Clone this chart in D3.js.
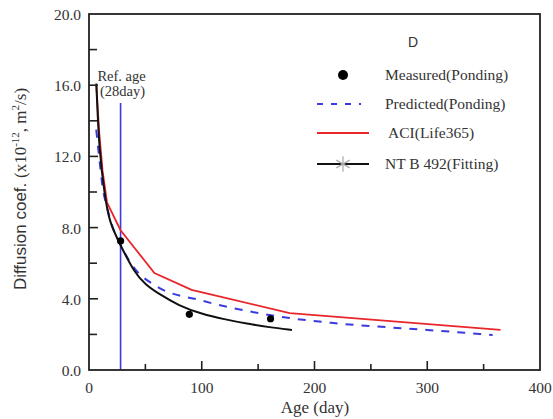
<!DOCTYPE html>
<html>
<head>
<meta charset="utf-8">
<script src="https://cdn.jsdelivr.net/npm/d3@7"></script>
<style>
  body { margin: 0; background: #fff; }
  text { fill: #333; white-space: pre; }
  .serif { font-family: "Liberation Serif", "Times New Roman", serif; }
  .sans { font-family: "Liberation Sans", Arial, sans-serif; }
</style>
</head>
<body>
<div id="graphContainer"></div>
<script>
// values (day, diffusion coef x1e-12 m2/s)
var measuredDays = [28, 89, 161],
    measuredVals = [7.25, 3.13, 2.88];

var predictedDays = [6.4, 9.3, 12, 16, 20, 28, 36, 60, 100, 150, 180, 215, 300, 358],
    predictedVals = [13.5, 11.8, 10.3, 9.15, 8.2, 7.05, 6.1, 4.7, 3.9, 3.2, 2.9, 2.65, 2.25, 1.97];

var aciDays = [6.5, 9, 12, 16, 28, 58, 91, 178, 365],
    aciVals = [16.0, 13.4, 11.2, 9.4, 7.85, 5.45, 4.5, 3.2, 2.25];

var fitDays = [6.5, 9, 14, 18, 28, 40, 50, 60, 80, 100, 120, 140, 160, 180],
    fitVals = [16.1, 12.3, 9.8, 8.3, 7.0, 5.5, 4.8, 4.35, 3.6, 3.15, 2.85, 2.6, 2.4, 2.25];

var refAge = 28, refTop = 15;

var xTicks = [0, 100, 200, 300, 400],
    yTicks = [0, 4, 8, 12, 16, 20];

var width = 553, height = 419,
    margin = {top: 14, left: 89, bottom: 49, right: 13};

var svg = d3.select("#graphContainer").append("svg")
    .attr("width", width).attr("height", height);

var x = d3.scaleLinear().domain([0, 400]).range([margin.left, width - margin.right]),
    y = d3.scaleLinear().domain([0, 20]).range([height - margin.bottom, margin.top]);

var zip = function (a, b) { return a.map(function (d, i) { return [d, b[i]]; }); };

var line = d3.line()
    .x(function (d) { return x(d[0]); })
    .y(function (d) { return y(d[1]); })
    .curve(d3.curveMonotoneX);

var plot = svg.append("g");

// reference age line
plot.append("line")
    .attr("x1", x(refAge)).attr("x2", x(refAge))
    .attr("y1", y(0)).attr("y2", y(refTop))
    .attr("stroke", "#3a3ae0").attr("stroke-width", 1.6);

plot.append("text").attr("class", "serif")
    .attr("x", x(refAge) + 1).attr("y", 81)
    .attr("text-anchor", "middle").attr("font-size", 14.5)
    .text("Ref. age");
plot.append("text").attr("class", "serif")
    .attr("x", x(refAge) + 2).attr("y", 96)
    .attr("text-anchor", "middle").attr("font-size", 14.5)
    .text("(28day)");

// series
plot.append("path")
    .datum(zip(predictedDays, predictedVals))
    .attr("d", line).attr("fill", "none")
    .attr("stroke", "#3a3ae0").attr("stroke-width", 2)
    .attr("stroke-dasharray", "8,8");

plot.append("path")
    .datum(zip(aciDays, aciVals))
    .attr("d", d3.line().x(function (d) { return x(d[0]); }).y(function (d) { return y(d[1]); }))
    .attr("fill", "none").attr("stroke", "#e8262b").attr("stroke-width", 1.8);

plot.append("path")
    .datum(zip(fitDays, fitVals))
    .attr("d", line.curve(d3.curveBasis)).attr("fill", "none")
    .attr("stroke", "#111").attr("stroke-width", 2);

plot.selectAll(".pt")
    .data(zip(measuredDays, measuredVals))
    .enter().append("circle")
    .attr("cx", function (d) { return x(d[0]); })
    .attr("cy", function (d) { return y(d[1]); })
    .attr("r", 3.6).attr("fill", "#000");

// frame
svg.append("rect")
    .attr("x", x(0)).attr("y", y(20))
    .attr("width", x(400) - x(0)).attr("height", y(0) - y(20))
    .attr("fill", "none").attr("stroke", "#222").attr("stroke-width", 1.8);

// ticks, inward
var xMinor = d3.range(50, 400, 100), yMinor = d3.range(2, 20, 4);
svg.append("g").selectAll("line").data(xTicks.slice(1, -1)).enter().append("line")
    .attr("x1", function (d) { return x(d); }).attr("x2", function (d) { return x(d); })
    .attr("y1", y(0)).attr("y2", y(0) - 9).attr("stroke", "#222").attr("stroke-width", 1.6);
svg.append("g").selectAll("line").data(xMinor).enter().append("line")
    .attr("x1", function (d) { return x(d); }).attr("x2", function (d) { return x(d); })
    .attr("y1", y(0)).attr("y2", y(0) - 6).attr("stroke", "#222").attr("stroke-width", 1.6);
svg.append("g").selectAll("line").data(yTicks.slice(1, -1)).enter().append("line")
    .attr("x1", x(0)).attr("x2", x(0) + 9)
    .attr("y1", function (d) { return y(d); }).attr("y2", function (d) { return y(d); })
    .attr("stroke", "#222").attr("stroke-width", 1.6);
svg.append("g").selectAll("line").data(yMinor).enter().append("line")
    .attr("x1", x(0)).attr("x2", x(0) + 8)
    .attr("y1", function (d) { return y(d); }).attr("y2", function (d) { return y(d); })
    .attr("stroke", "#222").attr("stroke-width", 1.6);

// tick labels
svg.append("g").selectAll("text").data(xTicks).enter().append("text")
    .attr("class", "serif").attr("font-size", 15.5)
    .attr("x", function (d) { return x(d); }).attr("y", y(0) + 23)
    .attr("text-anchor", "middle")
    .text(function (d) { return d; });
svg.append("g").selectAll("text").data(yTicks).enter().append("text")
    .attr("class", "serif").attr("font-size", 15.5)
    .attr("x", x(0) - 8).attr("y", function (d) { return y(d) + 6; })
    .attr("text-anchor", "end")
    .text(function (d) { return d3.format(".1f")(d); });

// axis titles
svg.append("text").attr("class", "serif").attr("font-size", 17)
    .attr("x", 315).attr("y", 413).attr("text-anchor", "middle")
    .text("Age (day)");

var yt = svg.append("text")
    .attr("transform", "translate(26," + 189 + ") rotate(-90)")
    .attr("text-anchor", "middle").attr("font-size", 17);
yt.append("tspan").attr("class", "sans").text("Diffusion coef. ");
yt.append("tspan").attr("class", "serif").text("(x10");
yt.append("tspan").attr("class", "serif").attr("font-size", 11).attr("dy", -7).text("-12");
yt.append("tspan").attr("class", "serif").attr("dy", 7).text(", m");
yt.append("tspan").attr("class", "serif").attr("font-size", 11).attr("dy", -7).text("2");
yt.append("tspan").attr("class", "serif").attr("dy", 7).text("/s)");

// legend
var legend = svg.append("g");
legend.append("text").attr("class", "sans").attr("font-size", 14)
    .attr("x", 413).attr("y", 47).attr("text-anchor", "middle").text("D");

var items = ["Measured(Ponding)", "Predicted(Ponding)", " ACI(Life365)", "NT B 492(Fitting)"],
    itemY = [75, 104, 133, 164];

legend.append("circle").attr("cx", 343).attr("cy", itemY[0]).attr("r", 5).attr("fill", "#000");
legend.append("line").attr("x1", 317).attr("x2", 361).attr("y1", itemY[1]).attr("y2", itemY[1])
    .attr("stroke", "#3a3ae0").attr("stroke-width", 2).attr("stroke-dasharray", "6,8");
legend.append("line").attr("x1", 317).attr("x2", 369).attr("y1", itemY[2]).attr("y2", itemY[2])
    .attr("stroke", "#e8262b").attr("stroke-width", 1.8);
legend.append("line").attr("x1", 317).attr("x2", 369).attr("y1", itemY[3]).attr("y2", itemY[3])
    .attr("stroke", "#111").attr("stroke-width", 1.8);
legend.append("path")
    .attr("d", d3.symbol().type(d3.symbolAsterisk).size(170))
    .attr("transform", "translate(343," + itemY[3] + ")")
    .attr("fill", "none").attr("stroke", "#aaa").attr("stroke-width", 1.2);

legend.selectAll(".lt").data(items).enter().append("text")
    .attr("class", "serif").attr("font-size", 15.5)
    .attr("x", 385).attr("y", function (d, i) { return itemY[i] + 5; })
    .text(function (d) { return d; });
</script>
</body>
</html>
